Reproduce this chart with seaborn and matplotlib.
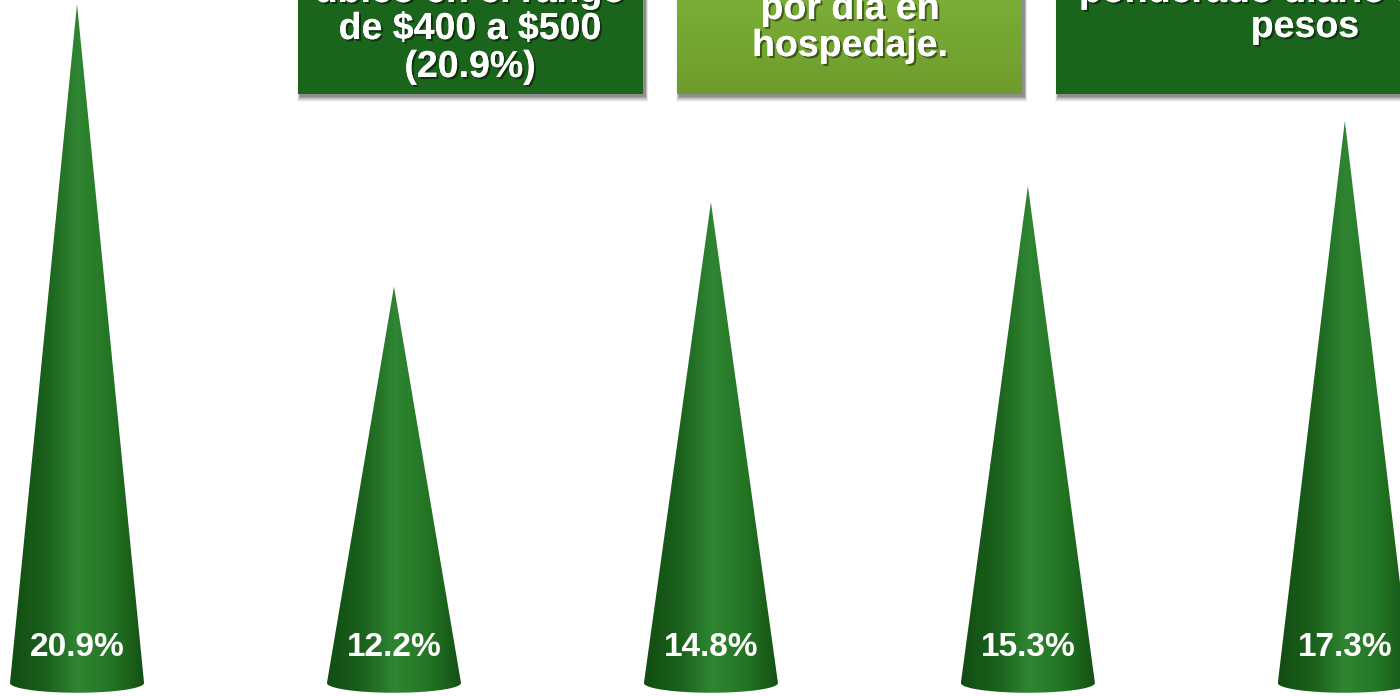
# Cone chart: share of spending per day (hospedaje), green cones
import numpy as np
import matplotlib.pyplot as plt
import matplotlib.patheffects as pe
from matplotlib.colors import LinearSegmentedColormap
from matplotlib.patches import Polygon, Rectangle
import seaborn as sns


# data
categories = ["A", "B", "C", "D", "E"]
values = [20.9, 12.2, 14.8, 15.3, 17.3]
value_labels = ["20.9%", "12.2%", "14.8%", "15.3%", "17.3%"]

box1_lines = ["ubicó en el rango", "de \\$400 a \\$500", "(20.9%)"]
box2_lines = ["por día en", "hospedaje."]
box3_lines = ["ponderado diario de", "pesos"]


sns.set_theme(style="white")
plt.rcParams["font.family"] = ["Liberation Sans", "DejaVu Sans"]

fig = plt.figure(figsize=(14, 6.96), dpi=100)
ax = fig.add_axes([0, 0, 1, 1])

df = {"cat": categories, "val": values}
sns.barplot(x="cat", y="val", data=df, width=0.423, color="#1b641b",
            ax=ax, zorder=1)

ax.set_xlim(-0.243, 4.174)
ax.set_ylim(-0.4, 21.02)
ax.axis("off")

cone_cmap = LinearSegmentedColormap.from_list(
    "cone", ["#124d12", "#1a5f1b", "#2f8532", "#237524", "#145014"])
grad = np.linspace(0, 1, 256).reshape(1, -1)

# turn each bar into a cone
ell_h = 0.30
for bar, lab in zip(ax.patches, value_labels):
    x0 = bar.get_x()
    w = bar.get_width()
    h = bar.get_height()
    xc = x0 + w / 2
    bar.set_visible(False)

    t = np.linspace(np.pi, 2 * np.pi, 60)
    ex = xc + (w / 2) * np.cos(t)
    ey = ell_h * np.sin(t)
    pts = [(xc, h)] + list(zip(ex, ey))
    cone = Polygon(pts, closed=True, facecolor="none", edgecolor="none")
    ax.add_patch(cone)
    im = ax.imshow(grad, cmap=cone_cmap, aspect="auto",
                   extent=[x0, x0 + w, -ell_h, h], zorder=2,
                   interpolation="bilinear")
    im.set_clip_path(cone)

    ax.text(xc, 1.08, lab, ha="center", va="center", color="white",
            fontsize=24, fontweight="bold", zorder=3)

ax.set_xlim(-0.243, 4.174)
ax.set_ylim(-0.4, 21.02)


# text boxes at the top (figure pixel coords)
W, H = 1400, 696


def fig_box(x0, x1, y_bottom, color, top_color=None):
    # soft shadow
    for k, a in zip(range(6, 0, -1), [0.04, 0.06, 0.08, 0.1, 0.12, 0.14]):
        fig.patches.append(Rectangle(
            ((x0 + 2 - k / 2) / W, 1 - (y_bottom + 2 + k) / H),
            (x1 - x0 + k) / W, (y_bottom + 2 + k) / H,
            transform=fig.transFigure, facecolor="black", alpha=a,
            edgecolor="none", zorder=4))
    if top_color is None:
        fig.patches.append(Rectangle(
            (x0 / W, 1 - y_bottom / H), (x1 - x0) / W, y_bottom / H + 0.02,
            transform=fig.transFigure, facecolor=color, edgecolor="none",
            zorder=5))
    else:
        bx = fig.add_axes([x0 / W, 1 - y_bottom / H, (x1 - x0) / W, y_bottom / H])
        bx.imshow(np.linspace(0, 1, 100).reshape(-1, 1),
                  cmap=LinearSegmentedColormap.from_list("b", [top_color, color]),
                  aspect="auto", extent=[0, 1, 0, 1])
        bx.axis("off")
        bx.set_zorder(5)


fig_box(298, 643, 94, "#1b641b")
fig_box(677, 1022, 94, "#6e9c2c", top_color="#7bad37")
fig_box(1056, 1410, 94, "#1b641b")

shadow = [pe.withSimplePatchShadow(offset=(1.5, -1.5), shadow_rgbFace="black",
                                   alpha=0.45), pe.Normal()]


def fig_text(x, y, s, ha="center"):
    fig.text(x / W, 1 - y / H, s, ha=ha, va="center", color="white",
             fontsize=27, fontweight="bold", zorder=10, path_effects=shadow)


fig_text(470, -8, box1_lines[0])
fig_text(470, 29, box1_lines[1])
fig_text(470, 67, box1_lines[2])

fig_text(850, 9, box2_lines[0])
fig_text(850, 46, box2_lines[1])

fig_text(1079, -8, box3_lines[0], ha="left")
fig_text(1305, 27, box3_lines[1])

fig.savefig("out.png", dpi=100, facecolor="white")
